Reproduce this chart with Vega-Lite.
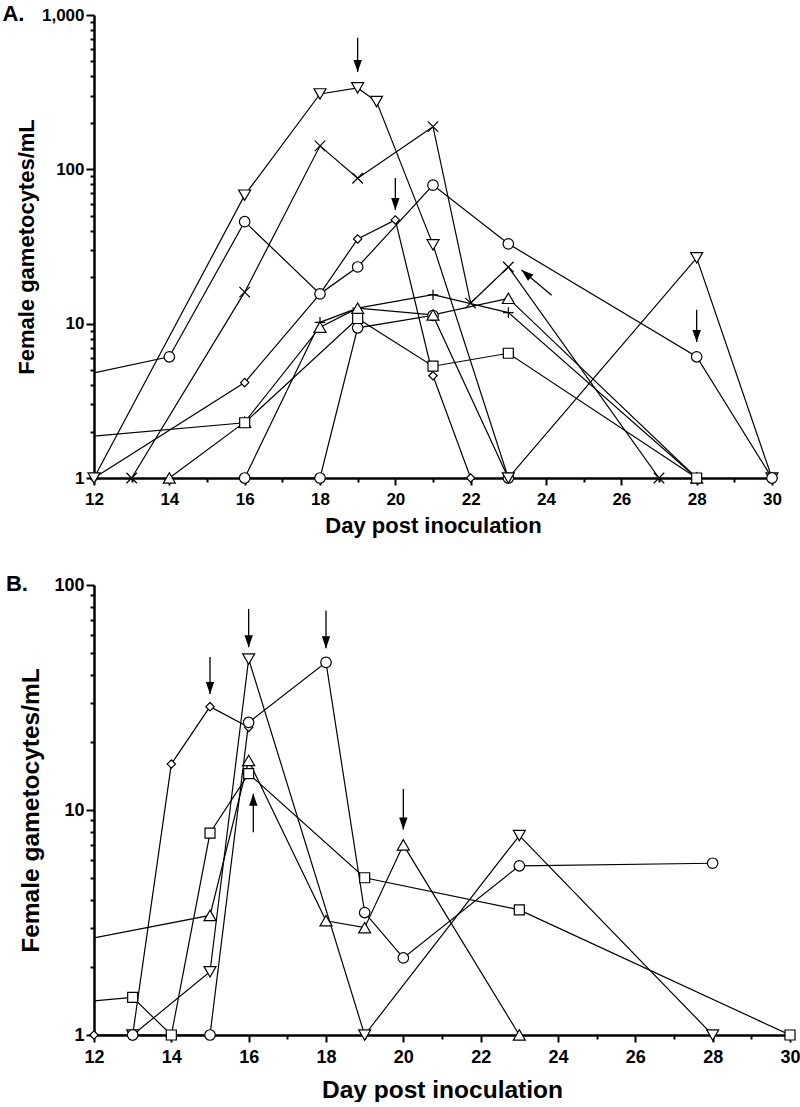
{
  "$schema": "https://vega.github.io/schema/vega-lite/v6.json",
  "background": "white",
  "padding": {"left": 2, "top": 3, "right": 0, "bottom": 0},
  "config": {
    "view": {"stroke": null},
    "font": "Liberation Sans",
    "axis": {"grid": false, "domainColor": "black", "tickColor": "black", "labelColor": "black", "titleColor": "black", "labelFont": "Liberation Sans", "titleFont": "Liberation Sans", "labelFontWeight": "bold", "titleFontWeight": "bold", "domainWidth": 2.5, "tickWidth": 2, "labelOverlap": false, "labelFlush": false}
  },
  "datasets": {
    "A": [
      {"series": "plus", "marker": "plus", "day": 16, "value": 1},
      {"series": "plus", "marker": "plus", "day": 18, "value": 10.2},
      {"series": "plus", "marker": "plus", "day": 19, "value": 12.6},
      {"series": "plus", "marker": "plus", "day": 21, "value": 15.4},
      {"series": "plus", "marker": "plus", "day": 23, "value": 11.8},
      {"series": "plus", "marker": "plus", "day": 28, "value": 1},
      {"series": "diamond", "marker": "diamond", "day": 12, "value": 1},
      {"series": "diamond", "marker": "diamond", "day": 16, "value": 4.15},
      {"series": "diamond", "marker": "diamond", "day": 18, "value": 15.6},
      {"series": "diamond", "marker": "diamond", "day": 19, "value": 35.4},
      {"series": "diamond", "marker": "diamond", "day": 20, "value": 47},
      {"series": "diamond", "marker": "diamond", "day": 21, "value": 4.6},
      {"series": "diamond", "marker": "diamond", "day": 22, "value": 1},
      {"series": "circle-2", "marker": "circle", "day": 16, "value": 1},
      {"series": "circle-2", "marker": "circle", "day": 18, "value": 1},
      {"series": "circle-2", "marker": "circle", "day": 19, "value": 9.4},
      {"series": "circle-2", "marker": "circle", "day": 21, "value": 11.3},
      {"series": "circle-2", "marker": "circle", "day": 23, "value": 1},
      {"series": "triangle-up", "marker": "triangle-up", "day": 14, "value": 1},
      {"series": "triangle-up", "marker": "triangle-up", "day": 16, "value": 2.3},
      {"series": "triangle-up", "marker": "triangle-up", "day": 18, "value": 9.5},
      {"series": "triangle-up", "marker": "triangle-up", "day": 19, "value": 12.6},
      {"series": "triangle-up", "marker": "triangle-up", "day": 21, "value": 11.4},
      {"series": "triangle-up", "marker": "triangle-up", "day": 23, "value": 14.6},
      {"series": "triangle-up", "marker": "triangle-up", "day": 28, "value": 1},
      {"series": "triangle-down", "marker": "triangle-down", "day": 12, "value": 1},
      {"series": "triangle-down", "marker": "triangle-down", "day": 16, "value": 68},
      {"series": "triangle-down", "marker": "triangle-down", "day": 18, "value": 308},
      {"series": "triangle-down", "marker": "triangle-down", "day": 19, "value": 337},
      {"series": "triangle-down", "marker": "triangle-down", "day": 19.5, "value": 275},
      {"series": "triangle-down", "marker": "triangle-down", "day": 21, "value": 32.4},
      {"series": "triangle-down", "marker": "triangle-down", "day": 23, "value": 1},
      {"series": "triangle-down", "marker": "triangle-down", "day": 28, "value": 26.7},
      {"series": "triangle-down", "marker": "triangle-down", "day": 30, "value": 1},
      {"series": "cross", "marker": "cross", "day": 13, "value": 1},
      {"series": "cross", "marker": "cross", "day": 16, "value": 16},
      {"series": "cross", "marker": "cross", "day": 18, "value": 142},
      {"series": "cross", "marker": "cross", "day": 19, "value": 87.5},
      {"series": "cross", "marker": "cross", "day": 21, "value": 189},
      {"series": "cross", "marker": "cross", "day": 22, "value": 13.6},
      {"series": "cross", "marker": "cross", "day": 23, "value": 23.3},
      {"series": "cross", "marker": "cross", "day": 27, "value": 1},
      {"series": "circle-1", "marker": "circle", "day": 11, "value": 4.26},
      {"series": "circle-1", "marker": "circle", "day": 14, "value": 6.1},
      {"series": "circle-1", "marker": "circle", "day": 16, "value": 45.8},
      {"series": "circle-1", "marker": "circle", "day": 18, "value": 15.6},
      {"series": "circle-1", "marker": "circle", "day": 19, "value": 23.3},
      {"series": "circle-1", "marker": "circle", "day": 21, "value": 79},
      {"series": "circle-1", "marker": "circle", "day": 23, "value": 32.9},
      {"series": "circle-1", "marker": "circle", "day": 28, "value": 6.1},
      {"series": "circle-1", "marker": "circle", "day": 30, "value": 1},
      {"series": "square", "marker": "square", "day": 11, "value": 1.78},
      {"series": "square", "marker": "square", "day": 16, "value": 2.28},
      {"series": "square", "marker": "square", "day": 19, "value": 10.8},
      {"series": "square", "marker": "square", "day": 21, "value": 5.3},
      {"series": "square", "marker": "square", "day": 23, "value": 6.43},
      {"series": "square", "marker": "square", "day": 28, "value": 1}
    ],
    "B": [
      {"series": "diamond", "marker": "diamond", "day": 12, "value": 1},
      {"series": "diamond", "marker": "diamond", "day": 13, "value": 1},
      {"series": "diamond", "marker": "diamond", "day": 14, "value": 16.0},
      {"series": "diamond", "marker": "diamond", "day": 15, "value": 28.8},
      {"series": "diamond", "marker": "diamond", "day": 16, "value": 23.3},
      {"series": "triangle-up", "marker": "triangle-up", "day": 11, "value": 2.5},
      {"series": "triangle-up", "marker": "triangle-up", "day": 15, "value": 3.4},
      {"series": "triangle-up", "marker": "triangle-up", "day": 16, "value": 16.6},
      {"series": "triangle-up", "marker": "triangle-up", "day": 18, "value": 3.22},
      {"series": "triangle-up", "marker": "triangle-up", "day": 19, "value": 3.0},
      {"series": "triangle-up", "marker": "triangle-up", "day": 20, "value": 7.0},
      {"series": "triangle-up", "marker": "triangle-up", "day": 23, "value": 1},
      {"series": "triangle-down", "marker": "triangle-down", "day": 13, "value": 1},
      {"series": "triangle-down", "marker": "triangle-down", "day": 15, "value": 1.91},
      {"series": "triangle-down", "marker": "triangle-down", "day": 16, "value": 46.9},
      {"series": "triangle-down", "marker": "triangle-down", "day": 19, "value": 1},
      {"series": "triangle-down", "marker": "triangle-down", "day": 23, "value": 7.7},
      {"series": "triangle-down", "marker": "triangle-down", "day": 28, "value": 1},
      {"series": "circle", "marker": "circle", "day": 13, "value": 1},
      {"series": "circle", "marker": "circle", "day": 15, "value": 1},
      {"series": "circle", "marker": "circle", "day": 16, "value": 24.5},
      {"series": "circle", "marker": "circle", "day": 18, "value": 45.3},
      {"series": "circle", "marker": "circle", "day": 19, "value": 3.5},
      {"series": "circle", "marker": "circle", "day": 20, "value": 2.2},
      {"series": "circle", "marker": "circle", "day": 23, "value": 5.65},
      {"series": "circle", "marker": "circle", "day": 28, "value": 5.8},
      {"series": "square", "marker": "square", "day": 11, "value": 1.37},
      {"series": "square", "marker": "square", "day": 13, "value": 1.47},
      {"series": "square", "marker": "square", "day": 14, "value": 1},
      {"series": "square", "marker": "square", "day": 15, "value": 7.9},
      {"series": "square", "marker": "square", "day": 16, "value": 14.5},
      {"series": "square", "marker": "square", "day": 19, "value": 5.0},
      {"series": "square", "marker": "square", "day": 23, "value": 3.6},
      {"series": "square", "marker": "square", "day": 30, "value": 1}
    ],
    "arrowsA": [
      {"dir": "down", "day": 19, "value": 428, "day_tail": 19, "value_tail": 711},
      {"dir": "down", "day": 20, "value": 54.6, "day_tail": 20, "value_tail": 88},
      {"dir": "upleft", "day": 23.35, "value": 22.3, "day_tail": 24.15, "value_tail": 15.3},
      {"dir": "down", "day": 28, "value": 7.6, "day_tail": 28, "value_tail": 12.3}
    ],
    "arrowsB": [
      {"dir": "down", "day": 15, "value": 32.8, "day_tail": 15, "value_tail": 47.9},
      {"dir": "down", "day": 16, "value": 52.9, "day_tail": 16, "value_tail": 78.2},
      {"dir": "down", "day": 18, "value": 52.3, "day_tail": 18, "value_tail": 76.9},
      {"dir": "up", "day": 16.12, "value": 11.8, "day_tail": 16.12, "value_tail": 7.96},
      {"dir": "down", "day": 20, "value": 8.2, "day_tail": 20, "value_tail": 12.4}
    ]
  },
  "vconcat": [
    {
      "width": 678,
      "height": 463,
      "title": {"text": "A.", "anchor": "start", "frame": "bounds", "fontSize": 22, "fontWeight": "bold", "font": "Liberation Sans", "color": "black", "dx": -13, "dy": 20, "offset": 0},
      "encoding": {
        "x": {"field": "day", "type": "quantitative", "scale": {"domain": [12, 30], "nice": false, "zero": false},
          "axis": {"title": "Day post inoculation", "values": [12,13,14,15,16,17,18,19,20,21,22,23,24,25,26,27,28,29,30], "labelExpr": "datum.value % 2 == 0 ? datum.label : ''", "tickSize": {"condition": {"test": "datum.value % 2 == 0", "value": 7}, "value": 4}, "labelFontSize": 17, "titleFontSize": 22, "labelPadding": 6, "titlePadding": 8}},
        "y": {"field": "value", "type": "quantitative", "scale": {"type": "log", "domain": [1, 1000], "nice": false},
          "axis": {"title": "Female gametocytes/mL", "values": [1,2,3,4,5,6,7,8,9,10,20,30,40,50,60,70,80,90,100,200,300,400,500,600,700,800,900,1000], "labelExpr": "indexof([1,10,100,1000], datum.value) >= 0 ? format(datum.value, ',') : ''", "tickSize": {"condition": {"test": "indexof([1,10,100,1000], datum.value) >= 0", "value": 8}, "value": 4}, "labelFontSize": 17, "titleFontSize": 22, "labelPadding": 2, "titlePadding": 3}}
      },
      "layer": [
        {"data": {"name": "A"}, "mark": {"type": "line", "clip": true, "color": "black", "strokeWidth": 1.2}, "encoding": {"detail": {"field": "series"}}},
        {"data": {"name": "A"}, "transform": [{"filter": "datum.day >= 12"}], "mark": {"type": "point", "filled": false, "fill": "white", "stroke": "black", "strokeWidth": 1.2, "opacity": 1, "fillOpacity": 1},
          "encoding": {
            "shape": {"field": "marker", "type": "nominal", "legend": null, "scale": {"domain": ["plus","diamond","circle","triangle-up","triangle-down","cross","square"], "range": ["M-1,0L1,0M0,-1L0,1","diamond","circle","triangle-up","triangle-down","M-1,-1L1,1M-1,1L1,-1","square"]}},
            "size": {"field": "marker", "type": "nominal", "legend": null, "scale": {"type": "ordinal", "domain": ["plus","diamond","circle","triangle-up","triangle-down","cross","square"], "range": [110, 70, 110, 144, 144, 110, 100]}}
          }},
        {"data": {"name": "arrowsA"}, "mark": {"type": "rule", "color": "black", "strokeWidth": 1.3}, "encoding": {"x2": {"field": "day_tail"}, "y2": {"field": "value_tail"}}},
        {"data": {"name": "arrowsA"}, "transform": [{"filter": "datum.dir == 'down'"}], "mark": {"type": "point", "shape": "M-0.7,-2L0.7,-2L0,0Z", "size": 144, "filled": true, "color": "black", "opacity": 1, "strokeWidth": 0}, "encoding": {}},
        {"data": {"name": "arrowsA"}, "transform": [{"filter": "datum.dir == 'upleft'"}], "mark": {"type": "point", "shape": "M-0.7,-2L0.7,-2L0,0Z", "size": 144, "angle": 130, "filled": true, "color": "black", "opacity": 1, "strokeWidth": 0}, "encoding": {}}
      ]
    },
    {
      "width": 696,
      "height": 450,
      "title": {"text": "B.", "anchor": "start", "frame": "bounds", "fontSize": 22, "fontWeight": "bold", "font": "Liberation Sans", "color": "black", "dx": -13, "dy": 20, "offset": 0},
      "encoding": {
        "x": {"field": "day", "type": "quantitative", "scale": {"domain": [12, 30], "nice": false, "zero": false},
          "axis": {"title": "Day post inoculation", "values": [12,13,14,15,16,17,18,19,20,21,22,23,24,25,26,27,28,29,30], "labelExpr": "datum.value % 2 == 0 ? datum.label : ''", "tickSize": {"condition": {"test": "datum.value % 2 == 0", "value": 7}, "value": 4}, "labelFontSize": 18, "titleFontSize": 24.5, "labelPadding": 6, "titlePadding": 12}},
        "y": {"field": "value", "type": "quantitative", "scale": {"type": "log", "domain": [1, 100], "nice": false},
          "axis": {"title": "Female gametocytes/mL", "values": [1,2,3,4,5,6,7,8,9,10,20,30,40,50,60,70,80,90,100], "labelExpr": "indexof([1,10,100], datum.value) >= 0 ? format(datum.value, ',') : ''", "tickSize": {"condition": {"test": "indexof([1,10,100], datum.value) >= 0", "value": 8}, "value": 4}, "labelFontSize": 18, "titleFontSize": 24.5, "labelPadding": 2, "titlePadding": 10}}
      },
      "layer": [
        {"data": {"name": "B"}, "mark": {"type": "line", "clip": true, "color": "black", "strokeWidth": 1.2}, "encoding": {"detail": {"field": "series"}}},
        {"data": {"name": "B"}, "transform": [{"filter": "datum.day >= 12"}], "mark": {"type": "point", "filled": false, "fill": "white", "stroke": "black", "strokeWidth": 1.2, "opacity": 1, "fillOpacity": 1},
          "encoding": {
            "shape": {"field": "marker", "type": "nominal", "legend": null, "scale": {"domain": ["plus","diamond","circle","triangle-up","triangle-down","cross","square"], "range": ["M-1,0L1,0M0,-1L0,1","diamond","circle","triangle-up","triangle-down","M-1,-1L1,1M-1,1L1,-1","square"]}},
            "size": {"field": "marker", "type": "nominal", "legend": null, "scale": {"type": "ordinal", "domain": ["plus","diamond","circle","triangle-up","triangle-down","cross","square"], "range": [110, 70, 110, 144, 144, 110, 100]}}
          }},
        {"data": {"name": "arrowsB"}, "mark": {"type": "rule", "color": "black", "strokeWidth": 1.3}, "encoding": {"x2": {"field": "day_tail"}, "y2": {"field": "value_tail"}}},
        {"data": {"name": "arrowsB"}, "transform": [{"filter": "datum.dir == 'down'"}], "mark": {"type": "point", "shape": "M-0.7,-2L0.7,-2L0,0Z", "size": 144, "filled": true, "color": "black", "opacity": 1, "strokeWidth": 0}, "encoding": {}},
        {"data": {"name": "arrowsB"}, "transform": [{"filter": "datum.dir == 'up'"}], "mark": {"type": "point", "shape": "M-0.7,2L0.7,2L0,0Z", "size": 144, "filled": true, "color": "black", "opacity": 1, "strokeWidth": 0}, "encoding": {}}
      ]
    }
  ],
  "spacing": 37
}
